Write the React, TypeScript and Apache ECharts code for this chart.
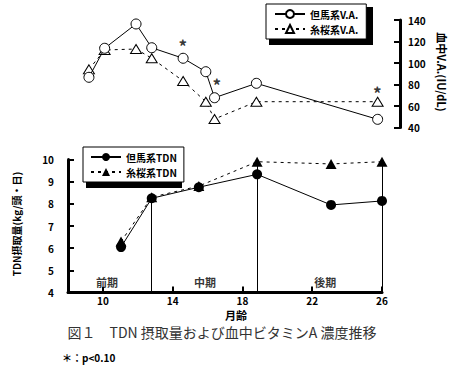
import React, { useEffect, useRef } from 'react';
import * as echarts from 'echarts';

// Blood vitamin A (top panel)
const vaMonths = [9.2, 10.1, 11.9, 12.8, 14.6, 15.9, 16.4, 18.8, 25.75];
const tajimaVA = [86.7, 113.7, 136.3, 114.2, 104.4, 91.9, 67.7, 81.1, 47.6];
const itozakuraVA = [94.1, 112.1, 113, 104.4, 83.3, 64, 47.9, 64, 64];
const sigMarks = [
  [14.58, 119.3],
  [16.53, 82.6],
  [25.73, 75.5],
];

// TDN intake (bottom panel)
const tdnMonths = [11.04, 12.8, 15.5, 18.84, 23.08, 26];
const tajimaTDN = [6.05, 8.25, 8.75, 9.33, 7.95, 8.13];
const itozakuraTDN = [6.3, 8.3, 8.8, 9.9, 9.8, 9.9];

const periodNames = ['前期', '中期', '後期'];
const periodLabelMonths = [10.24, 15.85, 22.74];
const monthTicks = [10, 14, 18, 22, 26];

const FONT = '"Noto Sans CJK JP", "Noto Sans", sans-serif';

export default function App() {
  const ref = useRef<HTMLDivElement>(null);
  useEffect(() => {
    if (!ref.current) return;
    const chart = echarts.init(ref.current, undefined, { renderer: 'svg' });
    const bold = { fontFamily: FONT, fontWeight: 'bold' as const, color: '#000' };
    const option: any = {
      animation: false,
      backgroundColor: '#fff',
      grid: [
        { left: 68, width: 314, top: 20, height: 107.5 },
        { left: 68, width: 314, top: 159.5, height: 133 },
      ],
      xAxis: [
        { type: 'value', gridIndex: 0, min: 8, max: 26, show: false },
        {
          type: 'value', gridIndex: 1, min: 8, max: 26,
          axisLine: { lineStyle: { color: '#000', width: 3 } },
          axisTick: { inside: true, length: 6, customValues: monthTicks, lineStyle: { color: '#000', width: 2 } },
          axisLabel: { customValues: monthTicks, ...bold, fontSize: 10, margin: 3 },
          splitLine: { show: false },
        },
      ],
      yAxis: [
        {
          type: 'value', gridIndex: 0, position: 'right', offset: 18, min: 40, max: 140, interval: 20,
          axisLine: { show: true, lineStyle: { color: '#000', width: 3 } },
          axisTick: { show: true, inside: true, length: 6, lineStyle: { color: '#000', width: 2 } },
          axisLabel: { ...bold, fontSize: 10, margin: 8 },
          splitLine: { show: false },
        },
        {
          type: 'value', gridIndex: 1, min: 4, max: 10, interval: 1,
          axisLine: { show: true, lineStyle: { color: '#000', width: 3 } },
          axisTick: { show: true, inside: true, length: 6, lineStyle: { color: '#000', width: 2 } },
          axisLabel: { ...bold, fontSize: 10, margin: 14 },
          splitLine: { show: false },
        },
      ],
      legend: [
        {
          data: ['但馬系V.A.', '糸桜系V.A.'],
          orient: 'vertical', left: 266, top: 4, padding: [5, 8, 5, 8], itemGap: 5,
          itemWidth: 30, itemHeight: 10,
          backgroundColor: '#fff', borderColor: '#000', borderWidth: 1,
          textStyle: { ...bold, fontSize: 10 },
        },
        {
          data: ['但馬系TDN', '糸桜系TDN'],
          orient: 'vertical', left: 83, top: 147, padding: [5, 7, 5, 7], itemGap: 5,
          itemWidth: 30, itemHeight: 10,
          backgroundColor: '#fff', borderColor: '#000', borderWidth: 1,
          textStyle: { ...bold, fontSize: 10 },
        },
      ],
      series: [
        {
          name: '但馬系V.A.', type: 'line', xAxisIndex: 0, yAxisIndex: 0,
          data: vaMonths.map((m, i) => [m, tajimaVA[i]]),
          symbol: 'circle', symbolSize: 10,
          lineStyle: { color: '#000', width: 1 },
          itemStyle: { color: '#fff', borderColor: '#000', borderWidth: 1 },
          z: 3,
        },
        {
          name: '糸桜系V.A.', type: 'line', xAxisIndex: 0, yAxisIndex: 0,
          data: vaMonths.map((m, i) => [m, itozakuraVA[i]]),
          symbol: 'triangle', symbolSize: [11, 9],
          lineStyle: { color: '#000', width: 1, type: [3, 4] },
          itemStyle: { color: '#fff', borderColor: '#000', borderWidth: 1 },
          z: 2,
        },
        {
          name: 'sig', type: 'scatter', xAxisIndex: 0, yAxisIndex: 0,
          data: sigMarks, symbolSize: 0, silent: true,
          label: { show: true, position: 'inside', formatter: '*', ...bold, fontSize: 17, offset: [0, 3] },
        },
        {
          name: '但馬系TDN', type: 'line', xAxisIndex: 1, yAxisIndex: 1,
          data: tdnMonths.map((m, i) => [m, tajimaTDN[i]]),
          symbol: 'circle', symbolSize: 10,
          lineStyle: { color: '#000', width: 1 },
          itemStyle: { color: '#000' },
          z: 3,
        },
        {
          name: '糸桜系TDN', type: 'line', xAxisIndex: 1, yAxisIndex: 1,
          data: tdnMonths.map((m, i) => [m, itozakuraTDN[i]]),
          symbol: 'triangle', symbolSize: [11, 10],
          lineStyle: { color: '#000', width: 1, type: [3, 4] },
          itemStyle: { color: '#000' },
          z: 2,
          markLine: {
            silent: true, symbol: 'none', label: { show: false },
            lineStyle: { color: '#000', width: 1, type: 'solid' },
            data: [
              [{ coord: [tdnMonths[1], 4] }, { coord: [tdnMonths[1], tajimaTDN[1]] }],
              [{ coord: [tdnMonths[3], 4] }, { coord: [tdnMonths[3], itozakuraTDN[3]] }],
              [{ coord: [tdnMonths[5], 4] }, { coord: [tdnMonths[5], itozakuraTDN[5]] }],
            ],
          },
        },
        {
          name: 'periods', type: 'scatter', xAxisIndex: 1, yAxisIndex: 1,
          data: periodLabelMonths.map((m, i) => ({ value: [m, 4.47], name: periodNames[i] })),
          symbolSize: 0, silent: true,
          label: { show: true, position: 'inside', formatter: '{b}', ...bold, fontSize: 11 },
        },
      ],
      graphic: [
        { type: 'rect', shape: { x: 269, y: 7, width: 104, height: 38 }, style: { fill: '#000' }, z: -1, zlevel: 0 },
        { type: 'rect', shape: { x: 86, y: 150, width: 96, height: 38 }, style: { fill: '#000' }, z: -1, zlevel: 0 },
        {
          type: 'text', x: 442, y: 72, rotation: -Math.PI / 2,
          style: { text: '血中V.A.(IU/dL)', ...bold, fill: '#000', fontSize: 11, align: 'center', verticalAlign: 'middle' },
        },
        {
          type: 'text', x: 16, y: 224, rotation: Math.PI / 2,
          style: { text: 'TDN摂取量(kg/頭・日)', ...bold, fill: '#000', fontSize: 10, align: 'center', verticalAlign: 'middle' },
        },
        {
          type: 'text', x: 236, y: 315,
          style: { text: '月齢', ...bold, fill: '#000', fontSize: 11, align: 'center', verticalAlign: 'middle' },
        },
        {
          type: 'text', x: 222, y: 332,
          style: { text: '図１　TDN 摂取量および血中ビタミンA 濃度推移', fontFamily: FONT, fill: '#333', fontSize: 14, align: 'center', verticalAlign: 'middle' },
        },
        {
          type: 'text', x: 62, y: 357,
          style: { text: '＊：p<0.10', ...bold, fill: '#000', fontSize: 10, align: 'left', verticalAlign: 'middle' },
        },
      ],
    };
    chart.setOption(option);
    return () => chart.dispose();
  }, []);
  return <div ref={ref} style={{ position: 'fixed', left: 0, top: 0, width: 454, height: 368 }} />;
}
